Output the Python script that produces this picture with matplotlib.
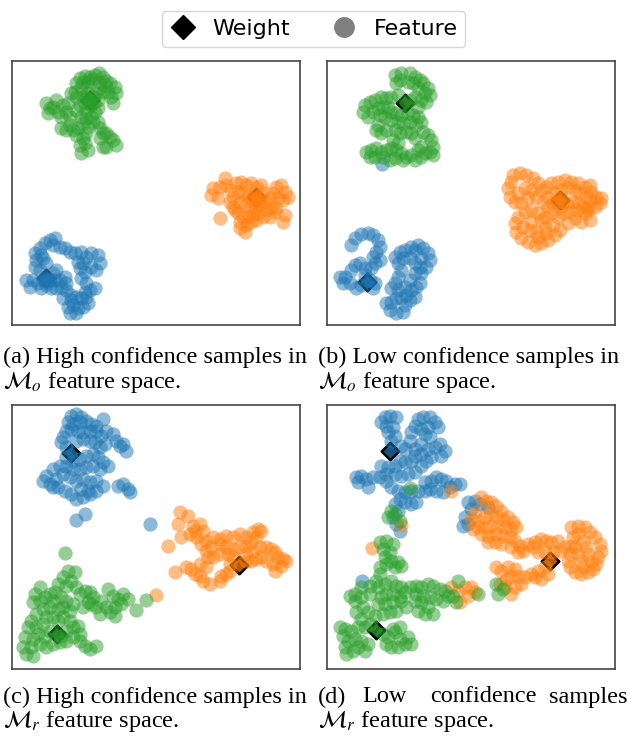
import numpy as np
import matplotlib.pyplot as plt
from matplotlib.lines import Line2D
from matplotlib.colors import to_rgb

# ---------------------------------------------------
# STYLE
# ---------------------------------------------------
plt.rcParams['mathtext.fontset'] = 'stix'

CLASS_COLORS = ['#1f77b4', '#ff7f0e', '#2ca02c']   # blue, orange, green

# ---------------------------------------------------
# DATA  (2-D embedding coordinates)
# ---------------------------------------------------
# (a) high confidence, M_o
a_blue = [(105,610),(120,595),(135,580),(150,570),(165,565),(160,585),(180,590),(195,595),(210,605),
          (125,615),(110,630),(105,650),(120,660),(140,640),(130,625),(225,610),(245,605),(260,620),
          (250,640),(235,635),(240,655),(255,665),(245,685),(260,700),(275,610),(295,615),(300,640),
          (290,660),(275,650),(285,715),(270,720),(255,725),(80,690),(90,710),(100,690),(115,700),
          (125,715),(140,705),(150,690),(160,670),(170,660),(165,690),(180,690),(195,680),(200,700),
          (185,710),(170,715),(155,715),(200,720),(215,735),(230,740),(245,745),(260,740),(265,760),
          (250,770),(235,775),(220,765),(205,770),(210,790),(230,790),(215,750),(190,745),
          (135,680),(148,690),(140,695),(130,690)]
a_orange = [(640,415),(635,435),(655,445),(660,410),(675,385),(680,405),(695,420),(700,440),(690,455),
            (710,400),(725,395),(740,405),(755,400),(770,410),(785,405),(790,425),(780,445),(760,450),
            (745,440),(730,430),(715,425),(720,455),(735,465),(750,475),(765,470),(780,465),(795,455),
            (810,445),(820,430),(830,410),(845,405),(855,425),(865,440),(850,450),(835,445),(815,470),
            (800,480),(790,500),(775,490),(760,495),(745,500),(730,500),(715,490),(705,480),(720,515),
            (740,525),(735,545),(720,535),(755,515),(770,510),(810,500),(825,485),(855,495),(850,515),
            (830,475),(700,470),(660,505),(765,435),(778,447),(770,452),(760,440)]
a_green = [(240,85),(255,78),(270,80),(285,75),(298,68),(310,80),(320,92),(250,95),(265,92),(280,88),
           (300,95),(230,100),(245,110),(262,105),(315,105),(330,100),(345,112),(350,130),(335,140),
           (340,160),(325,125),(310,125),(300,115),(140,160),(150,175),(145,190),(160,170),(170,150),
           (175,185),(190,165),(205,160),(215,130),(225,125),(200,185),(185,200),(210,200),(230,140),
           (250,140),(265,130),(280,140),(295,150),(255,160),(275,165),(290,130),(240,165),(230,180),
           (260,180),(285,185),(295,175),(245,200),(260,205),(275,200),(250,220),(265,230),(235,235),
           (220,240),(200,240),(185,235),(210,225),(280,215),(295,215),(300,235),(310,250),(300,265),
           (320,250),(330,260),(340,270),(350,285),(320,290),(310,290),(260,250),(250,265),(255,280),
           (265,300),(245,310),(240,285),(230,255),(265,148),(282,155),(272,162),(260,145)]
a_weights = [(140,685),(770,440),(272,150)]

# (b) low confidence, M_o
b_blue = [(110,585),(120,565),(140,552),(160,548),(175,555),(190,570),(195,590),(185,605),(175,620),
          (180,640),(170,655),(150,655),(135,640),(120,645),(110,660),(90,680),(75,680),(85,700),
          (105,700),(125,715),(140,705),(175,715),(180,700),(165,690),(150,675),(195,630),
          (240,620),(255,605),(270,600),(290,590),(310,585),(325,595),(340,610),(345,630),(335,650),
          (315,650),(300,640),(285,625),(265,625),(250,640),(260,660),(250,680),(240,700),(230,715),
          (250,720),(270,710),(285,690),(300,670),(320,670),(315,700),(305,710),(290,720),(275,735),
          (260,745),(245,745),(230,755),(215,760),(225,780),(245,790),(265,785),(270,765),(300,740),
          (285,750),(300,600),(320,625),(202,343)]
b_orange = [(595,375),(615,370),(635,375),(655,385),(670,400),(590,395),(580,415),(585,440),(600,455),
            (610,430),(630,415),(650,420),(665,440),(640,445),(620,460),(680,420),(695,410),(710,400),
            (730,395),(750,390),(770,395),(790,400),(810,410),(825,405),(830,425),(815,440),(795,430),
            (780,420),(760,415),(740,420),(720,430),(700,440),(685,455),(700,470),(715,460),(735,470),
            (755,460),(775,455),(790,460),(805,470),(820,480),(840,470),(855,460),(860,445),(845,440),
            (830,450),(810,490),(825,510),(800,515),(780,505),(765,485),(745,490),(730,500),(760,520),
            (710,490),(690,500),(670,490),(650,480),(630,485),(610,500),(600,520),(605,545),(620,565),
            (640,575),(660,585),(680,580),(700,570),(720,555),(735,540),(715,525),(690,530),(665,545),
            (645,540),(625,530),(650,515),(680,510),(670,560),(695,550),(820,470),(785,480),
            (735,445),(745,455),(728,455)]
b_green = [(240,75),(260,70),(285,68),(300,80),(315,90),(325,100),(340,115),(345,135),(330,130),
           (310,115),(295,100),(280,95),(255,90),(245,100),(320,150),(335,155),(310,170),(300,140),
           (285,150),(250,135),(230,140),(215,145),(200,140),(180,150),(165,155),(150,165),(145,185),
           (160,200),(175,185),(190,175),(205,170),(220,170),(195,195),(210,200),(230,185),(245,190),
           (260,195),(280,190),(295,195),(310,200),(320,215),(305,225),(285,215),(265,220),(250,215),
           (230,210),(190,225),(185,240),(200,250),(215,240),(240,240),(255,250),(275,245),(290,250),
           (300,265),(325,245),(340,255),(350,270),(355,290),(345,305),(330,310),(320,290),(310,300),
           (290,315),(275,320),(260,310),(245,300),(230,295),(215,300),(200,305),(185,295),(170,300),
           (155,305),(165,320),(180,320),(205,320),(225,330),(240,325),(265,330),(300,330),(320,320),
           (355,315),(250,280),(235,270)]
b_weights = [(158,697),(735,450),(272,160)]

# (c) high confidence, M_r
c_blue = [(215,65),(230,60),(245,70),(205,85),(220,90),(240,85),(260,80),(275,90),(290,95),(310,75),
          (200,110),(215,105),(235,110),(250,115),(270,110),(290,110),(305,125),(320,110),(340,120),
          (350,140),(360,155),(380,170),(370,150),(190,130),(185,145),(200,160),(230,140),(250,135),
          (270,140),(285,145),(300,160),(315,150),(200,190),(220,200),(240,195),(260,185),(280,180),
          (295,190),(310,205),(325,215),(300,225),(280,215),(260,220),(240,225),(220,225),(200,215),
          (180,215),(160,225),(140,245),(130,260),(150,270),(170,255),(190,240),(210,250),(230,260),
          (250,255),(270,265),(290,260),(310,275),(290,290),(270,300),(250,310),(230,315),(215,300),
          (195,290),(175,280),(160,280),(355,275),(370,270),(385,285),(390,295),(265,290),(245,285),
          (230,378),(255,360),(450,390)]
c_orange = [(540,355),(565,365),(535,390),(545,430),(580,395),(600,390),(585,410),(570,420),(610,410),
            (590,430),(605,450),(620,440),(640,430),(660,435),(680,425),(700,430),(720,420),(740,430),
            (760,415),(775,405),(785,410),(770,430),(755,445),(740,455),(720,460),(700,465),(680,460),
            (660,450),(635,460),(620,470),(625,490),(640,490),(660,480),(685,480),(700,490),(690,510),
            (740,480),(760,470),(780,460),(800,460),(815,465),(825,475),(835,490),(850,495),(860,500),
            (845,515),(825,530),(820,510),(800,500),(785,490),(770,495),(755,500),(740,500),(560,520),
            (575,525),(585,540),(600,545),(610,560),(630,570),(665,545),(680,540),(690,530),(660,560),
            (600,510),(620,520),(525,535),(505,455),(470,603)]
c_green = [(205,530),(225,535),(190,550),(175,570),(200,575),(215,560),(230,580),(120,580),(105,600),
           (100,625),(120,620),(135,610),(150,600),(165,595),(160,620),(185,610),(200,620),(220,630),
           (210,650),(190,640),(175,645),(150,640),(130,645),(110,660),(95,680),(85,700),(75,730),
           (70,760),(80,780),(100,785),(95,760),(100,735),(115,720),(110,700),(130,690),(140,670),
           (160,670),(175,680),(190,670),(210,680),(220,700),(200,710),(185,725),(150,710),(135,730),
           (120,750),(140,760),(160,750),(180,745),(200,740),(220,730),(240,740),(255,755),(270,765),
           (290,755),(240,720),(235,695),(240,600),(255,590),(270,595),(280,610),(265,625),(250,640),
           (275,630),(290,640),(305,620),(325,585),(340,605),(355,615),(370,600),(385,615),(365,630),
           (345,640),(330,655),(345,665),(320,640),(300,660),(195,477),(440,618),(410,648)]
c_weights = [(215,178),(718,512),(172,720)]

# (d) low confidence, M_r
d_blue = [(210,70),(225,65),(245,68),(200,85),(215,95),(235,100),(220,115),(240,125),(230,140),
          (310,75),(325,70),(345,70),(360,85),(370,100),(340,100),(320,105),(300,95),(330,120),
          (345,130),(290,115),(285,140),(260,155),(270,165),(300,165),(320,150),(340,165),(360,160),
          (375,150),(390,170),(380,185),(350,190),(335,200),(320,180),(300,185),(290,200),(270,205),
          (255,200),(240,215),(220,220),(200,215),(215,240),(240,240),(260,245),(280,240),(300,235),
          (320,215),(125,250),(140,245),(155,255),(130,265),(160,280),(175,250),(195,250),(215,260),
          (230,280),(250,290),(270,295),(290,290),(310,290),(305,325),(290,330),(270,325),(255,315),
          (240,330),(250,350),(235,370),(245,390),(255,410),(330,265),(350,260),(365,250),(380,255),
          (395,260),(405,280),(385,295),(365,290),(345,285),(420,270),(435,270),(330,290),(460,325),
          (480,320),(495,330),(470,345),(450,370),(445,395),(460,390),(520,340),(143,560)]
d_orange = [(500,310),(515,320),(530,325),(545,335),(560,350),(480,355),(470,375),(490,380),(510,370),
            (525,360),(545,365),(565,375),(580,370),(595,385),(605,400),(590,405),(570,400),(550,395),
            (530,395),(510,400),(490,400),(475,405),(500,420),(520,425),(545,420),(565,425),(585,430),
            (600,440),(615,455),(625,470),(610,475),(590,460),(560,450),(540,445),(520,445),(640,450),
            (660,445),(680,435),(695,440),(710,445),(730,440),(750,460),(735,470),(715,475),(690,475),
            (670,475),(655,460),(770,400),(790,395),(810,400),(825,415),(840,430),(855,450),(860,470),
            (850,490),(845,510),(835,525),(820,535),(800,540),(780,535),(765,520),(760,500),(765,480),
            (770,455),(775,430),(790,420),(805,440),(815,460),(820,480),(800,500),(790,480),(780,460),
            (805,520),(830,500),(545,520),(560,530),(580,520),(600,525),(610,545),(630,550),(650,540),
            (670,530),(690,520),(700,540),(680,555),(660,550),(620,570),(600,580),(590,600),(570,580),
            (555,570),(575,555),(590,545),(410,580),(430,590),(450,580),(470,580),(480,595),(460,605),
            (435,625),(410,292),(260,392),(172,462)]
d_green = [(230,350),(220,370),(240,360),(255,380),(285,283),(195,445),(215,440),(235,450),(205,465),
           (225,475),(210,490),(230,500),(250,505),(260,515),(240,520),(215,510),(195,520),(195,540),
           (185,560),(165,575),(140,580),(120,600),(105,605),(120,620),(140,610),(165,600),(190,580),
           (210,570),(230,560),(245,575),(260,580),(270,595),(255,610),(235,600),(215,600),(200,610),
           (190,630),(210,630),(235,625),(260,620),(275,640),(245,650),(225,655),(205,660),(180,665),
           (160,655),(145,640),(125,655),(140,675),(165,690),(150,700),(130,700),(110,710),(90,705),
           (75,700),(85,725),(100,740),(90,760),(95,780),(115,770),(130,760),(150,770),(160,750),
           (140,740),(120,735),(205,720),(220,730),(215,750),(230,760),(250,760),(270,750),(290,750),
           (280,730),(255,735),(240,715),(255,700),(235,705),(285,580),(305,575),(320,580),(340,570),
           (355,575),(375,585),(390,590),(400,605),(385,620),(365,615),(345,610),(325,605),(305,600),
           (300,620),(320,625),(340,640),(355,660),(330,660),(310,650),(415,605),(425,625),(490,600),
           (545,570),(550,600),(565,585),(430,560)]
d_weights = [(225,172),(705,500),(185,707)]

PANELS = [
    ([a_blue, a_orange, a_green], a_weights),
    ([b_blue, b_orange, b_green], b_weights),
    ([c_blue, c_orange, c_green], c_weights),
    ([d_blue, d_orange, d_green], d_weights),
]

# ---------------------------------------------------
# FIGURE
# ---------------------------------------------------
W, H = 629, 739
fig = plt.figure(figsize=(W / 100, H / 100), dpi=100)

# axes boxes in pixels: left, top
boxes = [(12, 61), (327, 61), (12, 405), (327, 405)]
aw, ah = 288, 264

for (features, weights), (left, top) in zip(PANELS, boxes):
    ax = fig.add_axes([left / W, 1 - (top + ah) / H, aw / W, ah / H])

    # weights first, features drawn over them
    for (wx, wy), c in zip(weights, CLASS_COLORS):
        face = np.array(to_rgb(c)) * 0.7
        ax.scatter([wx], [wy], marker='D', s=80, facecolor=face,
                   edgecolor='black', linewidth=1.8, zorder=1)

    for pts, c in zip(features, CLASS_COLORS):
        arr = np.array(pts)
        ax.scatter(arr[:, 0], arr[:, 1], s=105, color=c, alpha=0.5,
                   linewidth=0, zorder=2)

    ax.set_xlim(37, 901)
    ax.set_ylim(825, 33)
    ax.set_xticks([])
    ax.set_yticks([])
    for sp in ax.spines.values():
        sp.set_color('#444444')
        sp.set_linewidth(1.2)

# ---------------------------------------------------
# LEGEND
# ---------------------------------------------------
handles = [
    Line2D([], [], marker='D', linestyle='none', color='black', markersize=12),
    Line2D([], [], marker='o', linestyle='none', color='#808080', markersize=14),
]
fig.legend(handles, ['Weight', 'Feature'], loc='center',
           bbox_to_anchor=(313.5 / W, 1 - 29 / H), ncol=2, fontsize=16,
           handlelength=1.2, handletextpad=0.75, columnspacing=1.8,
           borderpad=0.35, borderaxespad=0)

# ---------------------------------------------------
# CAPTIONS
# ---------------------------------------------------
cap = dict(family='Liberation Serif', fontsize=17.5, va='center', ha='left')


def px(x, y):
    return x / W, 1 - y / H


fig.text(*px(3, 357), '(a) High confidence samples in', **cap)
fig.text(*px(3, 382), r'$\mathcal{M}_o$ feature space.', **cap)
fig.text(*px(318, 357), '(b) Low confidence samples in', **cap)
fig.text(*px(318, 382), r'$\mathcal{M}_o$ feature space.', **cap)

fig.text(*px(3, 697), '(c) High confidence samples in', **cap)
fig.text(*px(3, 721), r'$\mathcal{M}_r$ feature space.', **cap)
fig.text(*px(318, 697), '(d)', **cap)
fig.text(*px(362, 697), 'Low', **cap)
fig.text(*px(430, 697), 'confidence', **cap)
fig.text(*px(627, 697), 'samples', **dict(cap, ha='right'))
fig.text(*px(318, 721), r'$\mathcal{M}_r$ feature space.', **cap)

fig.savefig('out.png', dpi=100)
